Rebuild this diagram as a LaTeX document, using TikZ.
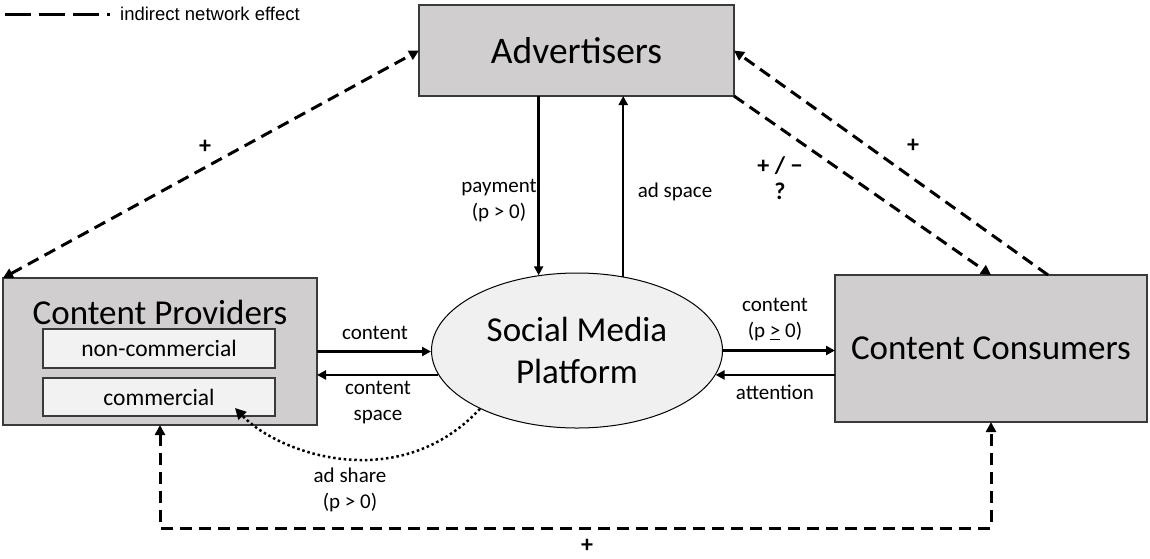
\documentclass[tikz,border=0pt]{standalone}
\usepackage{fontspec}
\setmainfont{Carlito}
\newfontfamily\legendfont{Liberation Sans}
\usetikzlibrary{arrows.meta,calc,shapes.geometric}
\definecolor{boxgray}{HTML}{D0CECE}
\definecolor{innergray}{HTML}{F2F2F2}
\definecolor{ellgray}{HTML}{F0F0F0}
\definecolor{edgegray}{HTML}{3A3A3A}
\begin{document}
\begin{tikzpicture}[x=1pt,y=-1pt,
 bigbox/.style={draw=edgegray,line width=1.5pt,fill=boxgray,inner sep=0pt,outer sep=0pt,font=\fontsize{35}{42}\selectfont},
 subbox/.style={draw=edgegray,line width=1.5pt,fill=innergray,inner sep=0pt,outer sep=0pt,minimum width=232pt,font=\fontsize{23.5}{28}\selectfont},
 lbl/.style={font=\fontsize{21}{26}\selectfont,align=center,inner sep=0pt},
 sign/.style={font=\bfseries\fontsize{24}{26}\selectfont,align=center,inner sep=0pt},
 flow/.style={line width=2.5pt,-{Triangle[length=9pt,width=9pt]}},
 effect/.style={line width=3pt,dash pattern=on 12pt off 7pt},
 effone/.style={effect,-{Triangle[length=10pt,width=10pt]}},
 efftwo/.style={effect,{Triangle[length=10pt,width=10pt]}-{Triangle[length=10pt,width=10pt]}},
 adline/.style={line width=2.5pt,dash pattern=on 2.5pt off 2.8pt,-{Triangle[length=11pt,width=11pt]}}
]
\useasboundingbox (0,0) rectangle (1150,558);

% legend
\coordinate (lgA) at (5,14);
\coordinate (lgB) at (110,14);
\draw[line width=3pt,dash pattern=on 26pt off 8pt] (lgA) -- (lgB);
\node[anchor=west,font=\legendfont\fontsize{18.5}{22}\selectfont,inner sep=0pt] (leg) at (120,14) {indirect network effect};

% nodes
\node[bigbox,minimum width=315pt,minimum height=91pt,font=\fontsize{37.5}{42}\selectfont] (adv) at (576.5,50.5) {Advertisers};
\node[bigbox,minimum width=314pt,minimum height=147pt] (cp) at (160,351.5) {};
\node[font=\fontsize{35}{42}\selectfont,inner sep=0pt] (cptitle) at (160,312) {Content Providers};
\node[subbox,minimum height=39pt] (noncomm) at (159,348.5) {non-commercial};
\node[subbox,minimum height=38pt] (comm) at (159,397) {commercial};
\node[bigbox,minimum width=312pt,minimum height=147pt] (cc) at (991,348.5) {Content Consumers};
\node[ellipse,draw=black,line width=1pt,fill=ellgray,minimum width=291pt,minimum height=155pt,inner sep=0pt,align=center,font=\fontsize{35}{42}\selectfont] (smp) at (577,350.5) {Social Media\\Platform};

% solid flows
\draw[flow] (adv.south -| smp.117) -- (smp.117);
\draw[flow] (smp.58) -- (adv.south -| smp.58);
\draw[flow] (cp.east) -- (cp.east -| smp.west);
\draw[flow] (smp.190) -- (smp.190 -| cp.east);
\draw[flow] (smp.east) -- (smp.east -| cc.west);
\draw[flow] (smp.-10 -| cc.west) -- (smp.-10);

% indirect network effects
\draw[efftwo] (cp.north west) -- (adv.west);
\draw[effone] (adv.south east) -- (cc.north);
\draw[effone] ($(cc.north)+(57,0)$) -- (adv.east);
\coordinate (bot) at (577,528);
\draw[efftwo] (cp.south) |- (bot) -| (cc.south);

% ad share
\coordinate (adtip) at ($(comm.center)+(76,11)$);
\draw[adline] (smp.211) .. controls (400,495) and (280,455) .. (adtip);

% labels
\node[lbl] (lpay) at (499,201) {payment\\(p > 0)};
\node[lbl] (lads) at (675,192) {ad space};
\node[lbl] (lc1) at (375,333) {content};
\node[lbl] (lcs) at (378,402.5) {content\\space};
\node[lbl] (lc2) at (775,320) {content\\(p \underline{>} 0)};
\node[lbl] (latt) at (775,392) {attention};
\node[lbl] (lad) at (350,490) {ad share\\(p > 0)};
\node[sign] (s1) at (205,147) {+};
\node[sign] (s2) at (780,178) {+ / −\\?};
\node[sign] (s3) at (913,146) {+};
\node[sign] (s4) at (587,546) {+};
\end{tikzpicture}
\end{document}
